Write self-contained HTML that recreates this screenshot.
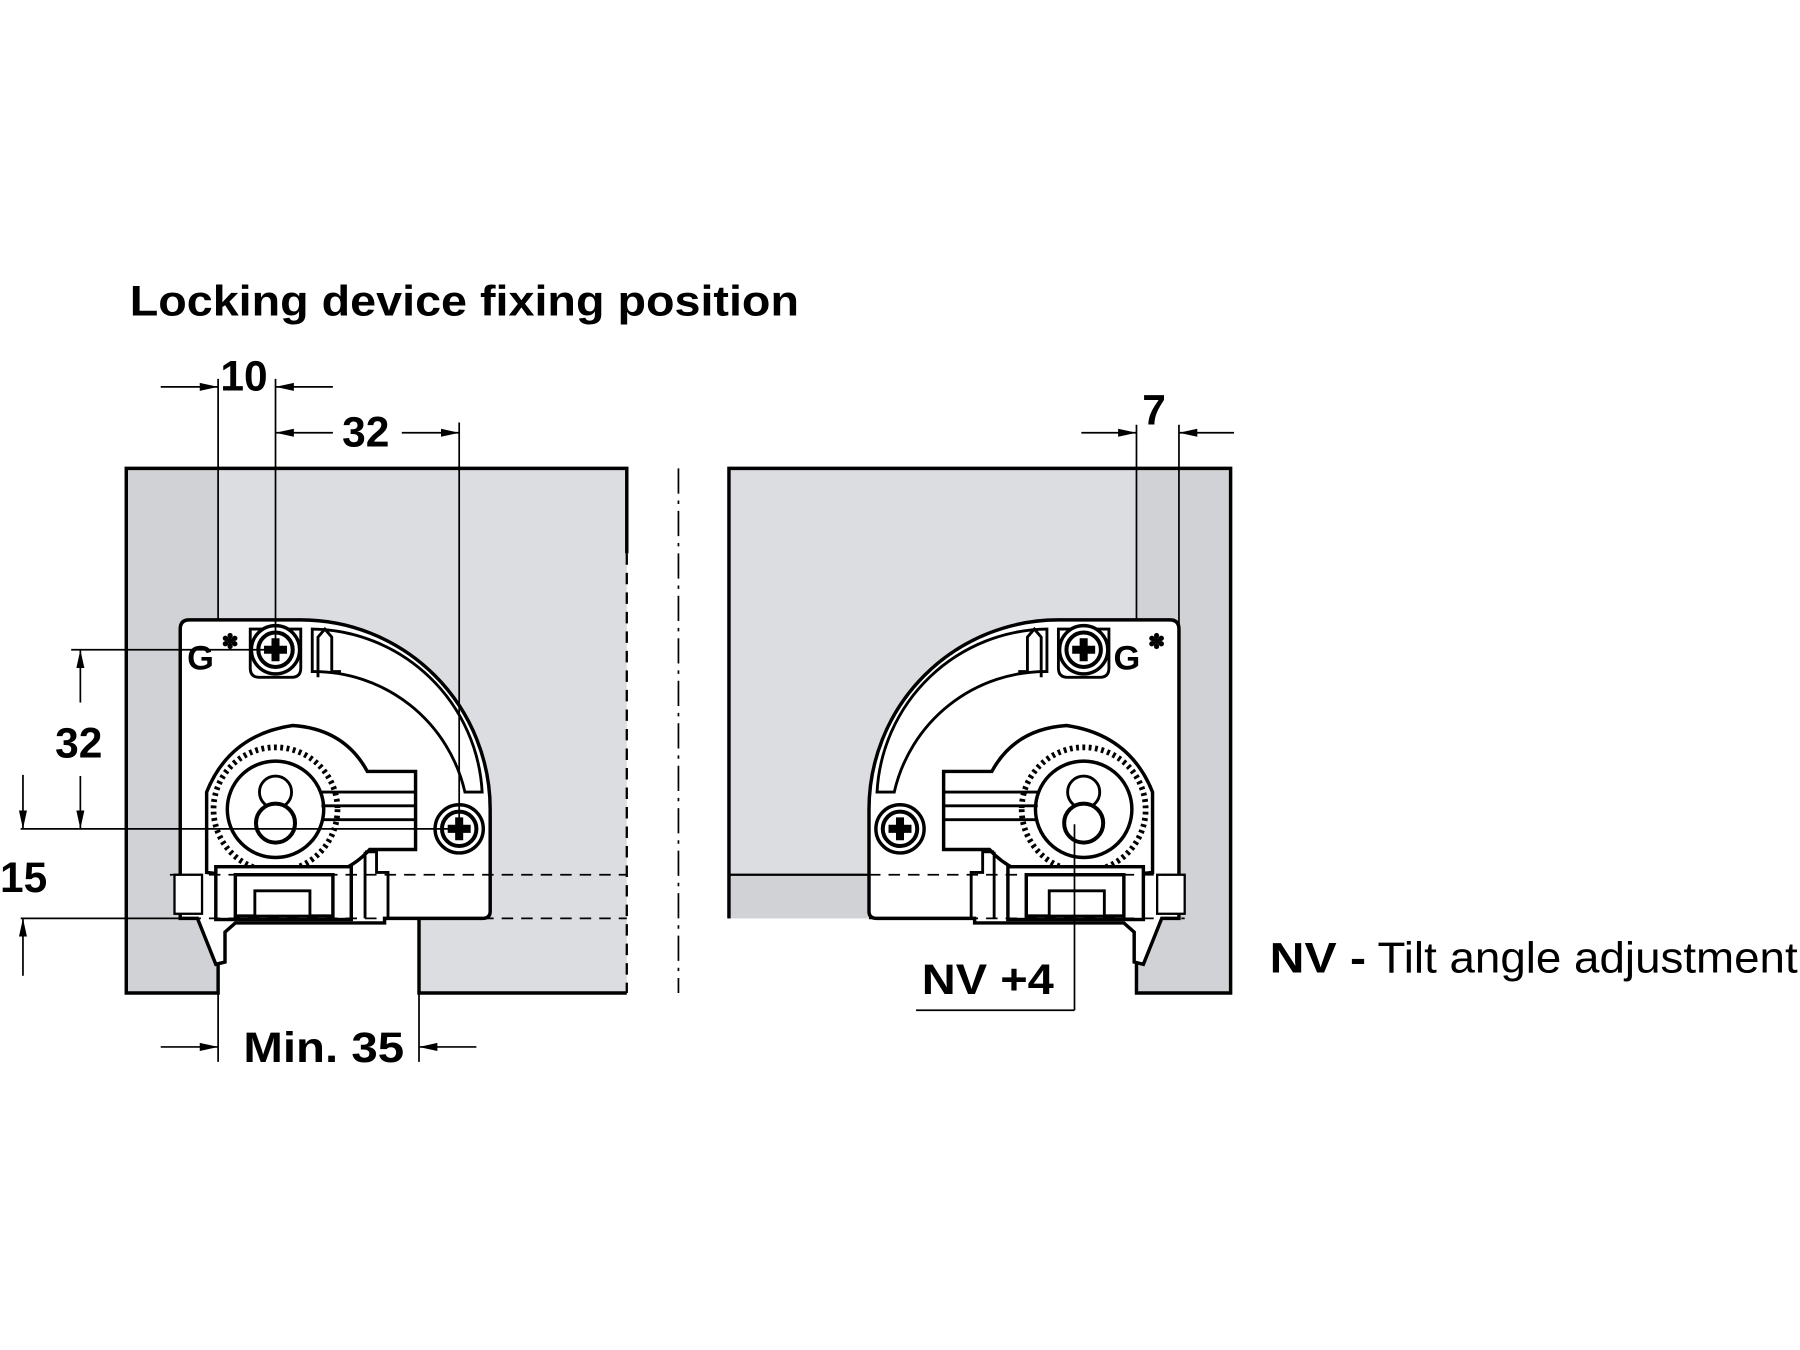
<!DOCTYPE html>
<html><head><style>html,body{margin:0;padding:0;background:#fff}svg{display:block}</style></head><body>
<svg width="1800" height="1350" viewBox="0 0 1568 1176" xmlns="http://www.w3.org/2000/svg" font-family="Liberation Sans, sans-serif">
<defs>
<marker id="a" viewBox="0 0 10 10" refX="10" refY="5" markerWidth="16" markerHeight="10" orient="auto-start-reverse" markerUnits="userSpaceOnUse" preserveAspectRatio="none"><path d="M0,1.5 L10,5 L0,8.5 Z" fill="#000"/></marker>
<g id="screw"><circle r="21" fill="#fff" stroke="#000" stroke-width="3"/><circle r="15" fill="#fff" stroke="#000" stroke-width="3.5"/><path d="M-10,-3.5H-3.5V-10H3.5V-3.5H10V3.5H3.5V10H-3.5V3.5H-10Z" fill="#000"/></g>
<g id="dev">
<path d="M157,548 Q157,540 165,540 H262 A165,165 0 0 1 427,705 V794 Q427,800 420,800 H335 V804 H205 L196,812 V838 L188,840 L172,800 H157 Z" fill="#fff" stroke="#000" stroke-width="3"/>
<path d="M272,548 A150,150 0 0 1 420,690 L405,690 A135,135 0 0 0 272,585 Z" fill="#fff" stroke="#000" stroke-width="2.5"/>
<path d="M180,690 Q200,640 255,632 Q300,635 320,672 L362,672 V740 L322,740 Q300,765 255,768 L180,760 Z" fill="#fff" stroke="#000" stroke-width="3"/>
<circle cx="240" cy="705" r="54" fill="none" stroke="#000" stroke-width="5" stroke-dasharray="2.5 3"/>
<circle cx="240" cy="705" r="42" fill="#fff" stroke="#000" stroke-width="3"/>
<circle cx="240" cy="690" r="14" fill="#fff" stroke="#000" stroke-width="2.5"/>
<circle cx="240" cy="717" r="17" fill="#fff" stroke="#000" stroke-width="3.5"/>
<path d="M280,690H362M280,702H362M280,714H362" stroke="#000" stroke-width="2.5"/>
<rect x="188" y="755" width="118" height="46" fill="#fff" stroke="#000" stroke-width="3"/>
<rect x="205" y="762" width="85" height="36" fill="#fff" stroke="#000" stroke-width="3"/>
<rect x="222" y="776" width="48" height="22" fill="#fff" stroke="#000" stroke-width="2.5"/>
<rect x="152" y="762" width="24" height="34" fill="#fff" stroke="#000" stroke-width="2"/>
<path d="M318,742 H328 V760 H338 V800 M318,742 V800" fill="none" stroke="#000" stroke-width="2.5"/>
<path d="M218,548 H262 V582 Q262,590 254,590 H226 Q218,590 218,582 Z" fill="#fff" stroke="#000" stroke-width="2.5"/>
<use href="#screw" x="240" y="566"/>
<path d="M378,705 H420 V740 H378 Z" fill="#fff" stroke="none"/>
<use href="#screw" x="400" y="722"/>
<path d="M277,590 V555 L283,548 L289,555 V585 H297" fill="none" stroke="#000" stroke-width="2.5"/>
</g>
</defs>
<path d="M110,408 H546 V865 H365 V800 H190 V865 H110 Z" fill="#dcdde0"/>
<rect x="110" y="408" width="80" height="457" fill="#d1d2d5"/>
<path d="M546,482 V408 H110 V865 H190 V800 M365,800 V865 H546" fill="none" stroke="#000" stroke-width="3"/>
<path d="M546,482 V865" stroke="#000" stroke-width="2" stroke-dasharray="10 7"/>
<line x1="190" y1="330" x2="190" y2="540" stroke="#000" stroke-width="1.5"/>
<path d="M635,408 H1072 V865 H990 V800 H635 Z" fill="#dcdde0"/>
<rect x="635" y="762" width="122" height="38" fill="#d1d2d5"/>
<rect x="990" y="408" width="82" height="457" fill="#d1d2d5"/>
<path d="M635,800 V408 H1072 V865 H990 V800" fill="none" stroke="#000" stroke-width="3"/>
<path d="M635,408 V800" stroke="#000" stroke-width="2" stroke-dasharray="10 7"/>
<path d="M635,762 H757" stroke="#000" stroke-width="2"/>
<line x1="990" y1="370" x2="990" y2="540" stroke="#000" stroke-width="1.5"/>
<line x1="591" y1="408" x2="591" y2="865" stroke="#000" stroke-width="1.5" stroke-dasharray="22 6 3 6"/>
<use href="#dev"/>
<use href="#dev" transform="translate(1184,0) scale(-1,1)"/>
<text x="163" y="583" font-size="30" font-weight="bold">G</text><text x="193" y="565" font-size="18" font-weight="bold">✽</text>
<text x="970" y="583" font-size="30" font-weight="bold">G</text><text x="1000" y="565" font-size="18" font-weight="bold">✽</text>
<path d="M148,762 H546 M148,800 H546 M757,762 H1032 M757,800 H1032" stroke="#000" stroke-width="1.5" stroke-dasharray="10 7"/>
<g stroke="#000" stroke-width="1.5" fill="none">
<line x1="240" y1="330" x2="240" y2="566"/>
<line x1="400" y1="368" x2="400" y2="722"/>
<line x1="140" y1="337" x2="190" y2="337" marker-end="url(#a)"/>
<line x1="290" y1="337" x2="240" y2="337" marker-end="url(#a)"/>
<line x1="290" y1="377" x2="240" y2="377" marker-end="url(#a)"/>
<line x1="350" y1="377" x2="400" y2="377" marker-end="url(#a)"/>
<line x1="62" y1="566" x2="240" y2="566"/>
<line x1="18" y1="722" x2="400" y2="722"/>
<line x1="18" y1="800" x2="148" y2="800"/>
<line x1="70" y1="612" x2="70" y2="566" marker-end="url(#a)"/>
<line x1="70" y1="676" x2="70" y2="722" marker-end="url(#a)"/>
<line x1="20" y1="675" x2="20" y2="722" marker-end="url(#a)"/>
<line x1="20" y1="850" x2="20" y2="800" marker-end="url(#a)"/>
<line x1="190" y1="865" x2="190" y2="925"/>
<line x1="365" y1="865" x2="365" y2="925"/>
<line x1="140" y1="912" x2="190" y2="912" marker-end="url(#a)"/>
<line x1="415" y1="912" x2="365" y2="912" marker-end="url(#a)"/>
<line x1="1027" y1="370" x2="1027" y2="560"/>
<line x1="942" y1="377" x2="990" y2="377" marker-end="url(#a)"/>
<line x1="1075" y1="377" x2="1027" y2="377" marker-end="url(#a)"/>
<line x1="936" y1="718" x2="936" y2="880"/>
<line x1="798" y1="880" x2="936" y2="880"/>
</g>
<g font-weight="bold" font-size="37" fill="#000">
<text x="113" y="275" textLength="583" lengthAdjust="spacingAndGlyphs">Locking device fixing position</text>
<text x="192" y="340">10</text>
<text x="298" y="389">32</text>
<text x="48" y="660">32</text>
<text x="0" y="777">15</text>
<text x="212" y="925" textLength="140" lengthAdjust="spacingAndGlyphs">Min. 35</text>
<text x="995" y="370">7</text>
<text x="803" y="866" textLength="115" lengthAdjust="spacingAndGlyphs">NV +4</text>
<text x="1106" y="847" textLength="84" lengthAdjust="spacingAndGlyphs">NV -</text>
</g>
<text x="1200" y="847" font-size="38" fill="#000" textLength="366" lengthAdjust="spacingAndGlyphs">Tilt angle adjustment</text>
</svg>
</body></html>
